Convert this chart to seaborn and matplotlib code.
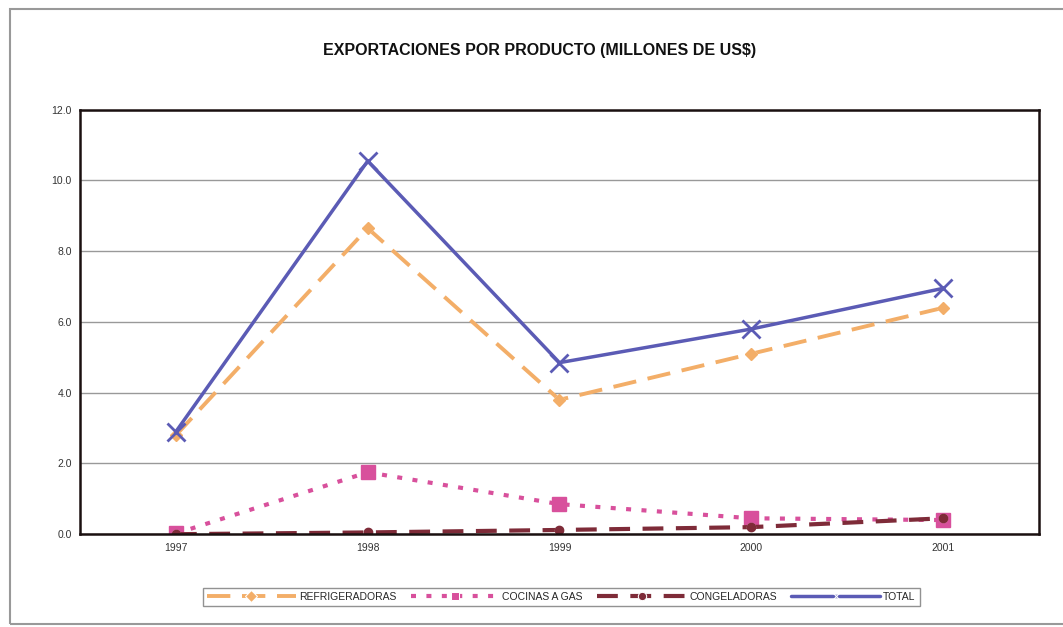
import matplotlib
matplotlib.use("Agg")
from matplotlib import pyplot as plt
import seaborn as sns
import pandas as pd

# Exportaciones por producto (millones de US$)
years = ["1997", "1998", "1999", "2000", "2001"]
refrigeradoras = [2.8, 8.65, 3.8, 5.1, 6.4]
cocinas = [0.02, 1.75, 0.85, 0.45, 0.4]
congeladoras = [0.0, 0.05, 0.12, 0.2, 0.45]
total = [2.9, 10.55, 4.85, 5.8, 6.95]

series = {
    "REFRIGERADORAS": refrigeradoras,
    "COCINAS A GAS": cocinas,
    "CONGELADORAS": congeladoras,
    "TOTAL": total,
}
rows = []
for name, vals in series.items():
    for i, v in enumerate(vals):
        rows.append({"pos": i, "year": years[i], "serie": name, "valor": v})
df = pd.DataFrame(rows)

sns.set_theme(style="white")
plt.rcParams["font.family"] = ["Liberation Sans", "DejaVu Sans"]

colors = {
    "REFRIGERADORAS": "#F3AE68",
    "COCINAS A GAS": "#D8509C",
    "CONGELADORAS": "#7E2B38",
    "TOTAL": "#5B5BB5",
}
styles = {
    "REFRIGERADORAS": dict(ls=(0, (6, 3)), marker="D", ms=6, lw=2.8),
    "COCINAS A GAS": dict(ls=(0, (1.2, 2.5)), marker="s", ms=10, lw=3),
    "CONGELADORAS": dict(ls=(0, (5, 3)), marker="o", ms=6, lw=3),
    "TOTAL": dict(ls="-", marker="x", ms=13, lw=2.5, mew=2),
}

fig = plt.figure(figsize=(10.63, 6.27), dpi=100)
ax = fig.add_axes([0.0753, 0.148, 0.902, 0.677])

for name in series:
    sub = df[df["serie"] == name]
    st = styles[name]
    sns.lineplot(data=sub, x="pos", y="valor", ax=ax, color=colors[name],
                 linestyle=st["ls"], linewidth=st["lw"], label=name)
    ax.plot(sub["pos"], sub["valor"], linestyle="none", marker=st["marker"],
            ms=st["ms"], color=colors[name], mew=st.get("mew", 1))

ax.set_xlim(-0.5, 4.5)
ax.set_ylim(0, 12)
ax.set_yticks([0, 2, 4, 6, 8, 10, 12])
ax.set_yticklabels([f"{v:.1f}" for v in range(0, 13, 2)], fontsize=7.5, color="#333333")
ax.set_xticks(range(len(years)))
ax.set_xticklabels(years, fontsize=7.5, color="#333333")
ax.tick_params(axis="both", length=3, color="black", direction="out", pad=3)
ax.yaxis.grid(True, color="#999999", linewidth=1)
ax.set_xlabel("")
ax.set_ylabel("")
for side in ["left", "bottom", "top", "right"]:
    ax.spines[side].set_color("#1a1010")
    ax.spines[side].set_linewidth(1.8)

ax.get_legend().remove()
handles, labels = ax.get_legend_handles_labels()
for h, name in zip(handles, labels):
    h.set_marker(styles[name]["marker"])
    h.set_markersize(6)
leg = fig.legend(handles, labels, loc="center", bbox_to_anchor=(0.528, 0.048), ncol=4,
                 fontsize=7.5, frameon=True, fancybox=False, edgecolor="#777777",
                 handlelength=8.5, columnspacing=1.4, handletextpad=0.3, borderpad=0.4)

fig.text(0.508, 0.92, "EXPORTACIONES POR PRODUCTO (MILLONES DE US$)",
         ha="center", va="center", fontsize=11.5, fontweight="bold", color="#111111")

# marco exterior
fig.patches.append(plt.Rectangle((0.009, 0.005), 1.2, 0.98, transform=fig.transFigure,
                                 fill=False, edgecolor="#999999", linewidth=1.5))

fig.savefig("out.png", dpi=100)
